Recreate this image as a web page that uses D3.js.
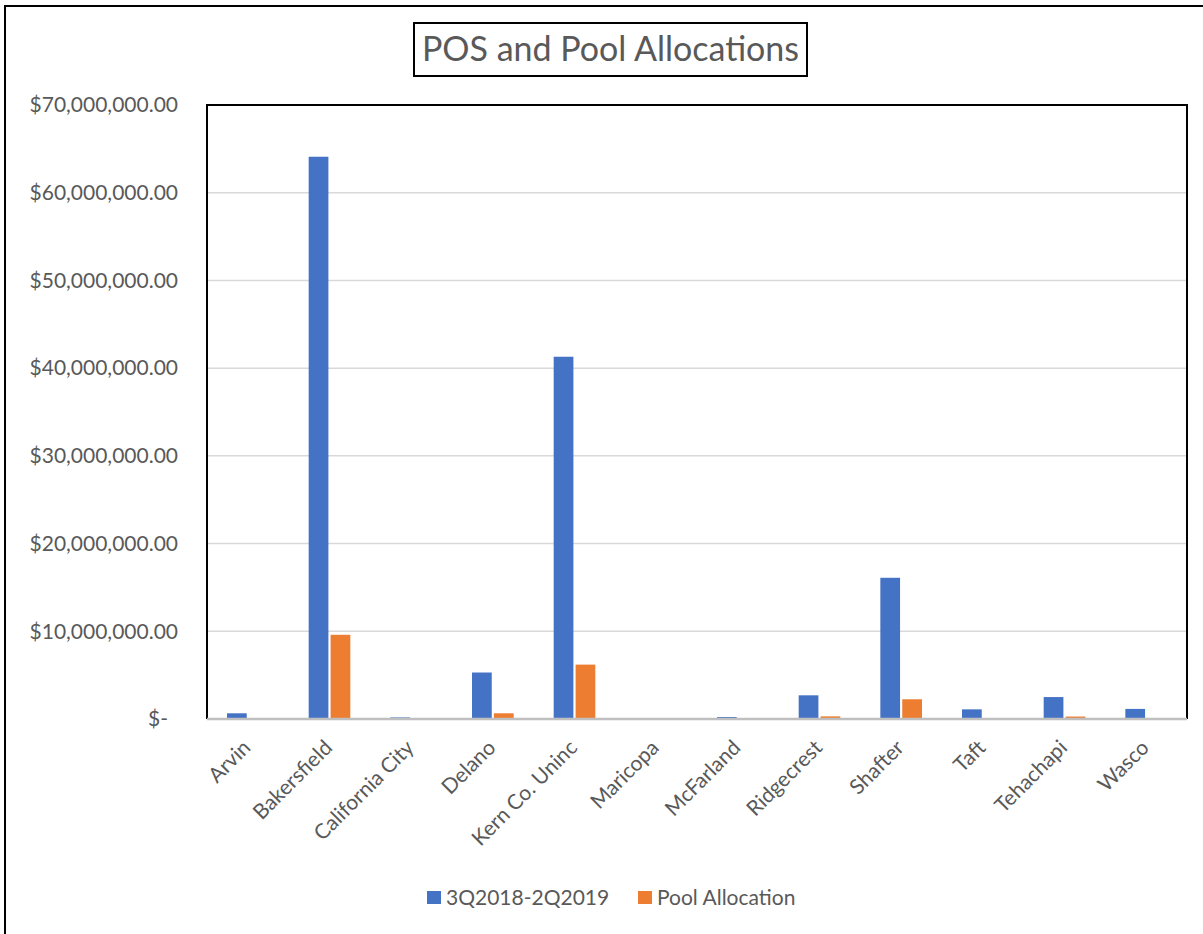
<!DOCTYPE html>
<html><head><meta charset="utf-8">
<script src="https://cdn.jsdelivr.net/npm/d3@7"></script>
<style>body{margin:0;background:#fff}svg{display:block}</style>
</head><body>
<svg id="chart" width="1203" height="934"></svg>
<script>
const categories = ["Arvin","Bakersfield","California City","Delano","Kern Co. Uninc","Maricopa","McFarland","Ridgecrest","Shafter","Taft","Tehachapi","Wasco"];
const seriesNames = ["3Q2018-2Q2019","Pool Allocation"];
const posValues  = [650000, 64100000, 180000, 5300000, 41300000, 20000, 220000, 2700000, 16100000, 1100000, 2500000, 1150000];
const poolValues = [60000, 9600000, 20000, 650000, 6200000, 5000, 30000, 300000, 2250000, 80000, 280000, 70000];
const yTicks = [0,10000000,20000000,30000000,40000000,50000000,60000000,70000000];
const colors = ["#4472C4","#ED7D31"];

const svg = d3.select("#chart");
const font = "Lato, 'Open Sans', sans-serif";
const M = {left:207, top:105, right:1187, bottom:719};

// outer chart border
svg.append("rect").attr("x",5).attr("y",6).attr("width",1210).attr("height",940)
  .attr("fill","#fff").attr("stroke","#000").attr("stroke-width",2);

const x0 = d3.scaleBand().domain(categories).range([M.left, M.right]).paddingInner(0.49).paddingOuter(0.245);
const x1 = d3.scaleBand().domain(seriesNames).range([0, x0.bandwidth()]).paddingInner(0.1);
const y = d3.scaleLinear().domain([0,70000000]).range([M.bottom, M.top]);

// gridlines
svg.append("g").selectAll("line").data(yTicks.slice(1,-1)).join("line")
  .attr("x1",M.left).attr("x2",M.right).attr("y1",d=>y(d)).attr("y2",d=>y(d))
  .attr("stroke","#d9d9d9").attr("stroke-width",1.5);

// y axis labels
const fmt = d => d===0 ? "$-" : "$" + d3.format(",.2f")(d);
const yAxis = d3.axisLeft(y).tickValues(yTicks).tickFormat(fmt).tickSize(0).tickPadding(29);
const gy = svg.append("g").attr("transform",`translate(${M.left},0)`).call(yAxis);
gy.select(".domain").remove();
gy.selectAll("text").attr("font-family",font).attr("font-size",21).attr("fill","#595959");
gy.selectAll(".tick").filter(d=>d===0).select("text").attr("dx",-10);

// bars
const data = categories.map((c,i)=>({cat:c, vals:[posValues[i], poolValues[i]]}));
const groups = svg.append("g").selectAll("g").data(data).join("g")
  .attr("transform",d=>`translate(${x0(d.cat)},0)`);
groups.selectAll("rect").data(d=>d.vals.map((v,j)=>({s:seriesNames[j], v, j}))).join("rect")
  .attr("x",d=>x1(d.s)).attr("width",x1.bandwidth())
  .attr("y",d=>y(d.v)).attr("height",d=>M.bottom - y(d.v))
  .attr("fill",d=>colors[d.j]);

// plot border (left, top, right black)
svg.append("path").attr("d",`M${M.left},${M.bottom}V${M.top}H${M.right}V${M.bottom}`)
  .attr("fill","none").attr("stroke","#000").attr("stroke-width",2);
// x axis baseline
const xAxis = d3.axisBottom(x0).tickSize(0).tickPadding(0);
const gx = svg.append("g").attr("transform",`translate(0,${M.bottom})`).call(xAxis);
gx.select(".domain").attr("stroke","#bfbfbf").attr("stroke-width",2.5).attr("d",`M${M.left},0H${M.right}`);
gx.selectAll("text").attr("font-family",font).attr("font-size",21).attr("fill","#595959")
  .attr("text-anchor","end").attr("dy",null)
  .attr("transform","translate(4,30) rotate(-45)");

// title
const title = svg.append("g");
title.append("rect").attr("x",414).attr("y",23).attr("width",393).attr("height",53)
  .attr("fill","#fff").attr("stroke","#000").attr("stroke-width",2);
title.append("text").attr("x",610.5).attr("y",61).attr("text-anchor","middle")
  .attr("font-family",font).attr("font-size",34).attr("fill","#595959").text("POS and Pool Allocations");

// legend
const legX = [427, 638];
const leg = svg.append("g").selectAll("g").data(seriesNames).join("g")
  .attr("transform",(d,i)=>`translate(${legX[i]},891)`);
leg.append("rect").attr("width",14).attr("height",13).attr("fill",(d,i)=>colors[i]);
leg.append("text").attr("x",19).attr("y",14).attr("font-family",font).attr("font-size",21)
  .attr("fill","#595959").text(d=>d);
</script>
</body></html>
